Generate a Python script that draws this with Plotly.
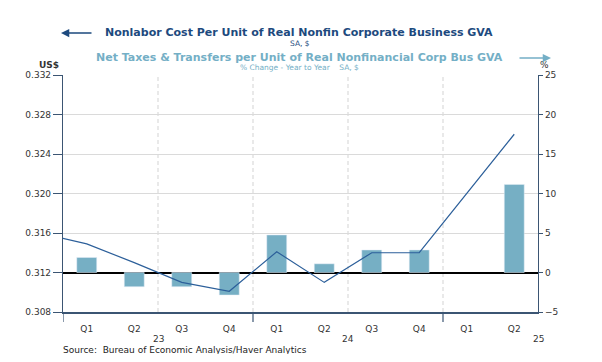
import plotly.graph_objects as go

# ---- data ----
quarters = ["2022Q4", "2023Q1", "2023Q2", "2023Q3", "2023Q4",
            "2024Q1", "2024Q2", "2024Q3", "2024Q4", "2025Q1", "2025Q2"]
nonlabor_cost = [0.3160, 0.3149, 0.3130, 0.3110, 0.3101,
                 0.3141, 0.3110, 0.3140, 0.3140, 0.3200, 0.3260]
net_taxes_pct = [None, 1.9, -1.8, -1.8, -2.85,
                 4.75, 1.1, 2.85, 2.85, None, 11.15]
years_shown = ["2023", "2024", "2025"]

# ---- derived positions (quarter index, 2023Q1 = 0) ----
def qidx(q):
    return (int(q[:4]) - 2023) * 4 + int(q[-1]) - 1

xpos = [qidx(q) for q in quarters]
shown = [(x, q) for x, q in zip(xpos, quarters) if x >= 0]
tickvals = [x for x, _ in shown]
ticktext = ["Q" + q[-1] for _, q in shown]
x_lo, x_hi = min(tickvals) - 0.5, max(tickvals) + 0.5

AX = "#3b5573"
NAVY = "#1d4a7e"
LIGHT = "#74afc6"
BAR = "#76afc4"
LINE = "#2c5f9a"
FONT = "DejaVu Sans"

# page body has an 8px margin; figure sized to fit the 602x362 window
OFF = 8
W, H = 602 - 2 * OFF, 362 - 2 * OFF
PW, PH, L, T = 475, 237, 63, 75   # plot area in window pixels

fig = go.Figure()
fig.add_trace(go.Bar(x=xpos, y=net_taxes_pct, marker_color=BAR, width=0.42,
                     yaxis="y", name="Net Taxes & Transfers"))
fig.add_trace(go.Scatter(x=xpos, y=nonlabor_cost, mode="lines",
                         line=dict(color=LINE, width=1.2), yaxis="y2",
                         name="Nonlabor Cost"))

shapes = []
for x in tickvals:
    if x % 2 == 1 and x + 0.5 < x_hi:
        shapes.append(dict(type="line", xref="x", yref="paper", x0=x + 0.5, x1=x + 0.5,
                           y0=0, y1=1, line=dict(color="#d3d3d3", width=1, dash="4px,3px"),
                           layer="below"))
for x, q in shown:
    if q.endswith("Q1"):
        shapes.append(dict(type="line", xref="x", yref="paper", x0=x - 0.5, x1=x - 0.5,
                           y0=0, y1=-10 / PH, line=dict(color=AX, width=1.2)))

def px(xp):
    return (xp - L) / PW
def py(yp):
    return (T + PH - yp) / PH

ann = []
for y in years_shown:
    first = qidx(y + "Q1")
    ann.append(dict(text=y[2:], x=first + 1.5, y=py(339), xref="x", yref="paper",
                    xanchor="center", yanchor="middle", showarrow=False,
                    font=dict(size=9, color="#333333", family=FONT)))

def txt(s, x, y, size, color, xanchor="center"):
    return dict(text=s, x=px(x), y=py(y), xref="paper", yref="paper", showarrow=False,
                xanchor=xanchor, yanchor="middle", font=dict(size=size, color=color, family=FONT))

ann += [
    txt("<b>Nonlabor Cost Per Unit of Real Nonfin Corporate Business GVA</b>", 299, 33, 11, NAVY),
    txt("SA, $", 300, 43.5, 7.5, NAVY),
    txt("<b>Net Taxes &amp; Transfers per Unit of Real Nonfinancial Corp Bus GVA</b>", 299, 57.5, 11, LIGHT),
    txt("% Change - Year to Year&nbsp;&nbsp;&nbsp;&nbsp;SA, $", 299.5, 68, 7.5, LIGHT),
    txt("<b>US$</b>", 49, 64.5, 9, "#333333"),
    txt("%", 544, 64.5, 9, "#333333"),
    txt("Source:&nbsp;&nbsp;Bureau of Economic Analysis/Haver Analytics", 61, 350, 9, "#222222", "left"),
    dict(text="", x=px(61), y=py(33), xref="paper", yref="paper", showarrow=True,
         ax=32, ay=0, arrowhead=2, arrowsize=1.1, arrowwidth=1.5, arrowcolor=NAVY),
    dict(text="", x=px(551), y=py(58), xref="paper", yref="paper", showarrow=True,
         ax=-33, ay=0, arrowhead=2, arrowsize=1.1, arrowwidth=1.5, arrowcolor=LIGHT),
]

fig.update_layout(
    width=W, height=H,
    margin=dict(l=L - OFF, r=W - (L - OFF) - PW, t=T - OFF, b=H - (T - OFF) - PH, pad=0),
    paper_bgcolor="white", plot_bgcolor="white",
    showlegend=False,
    font=dict(family=FONT, size=9, color="#333333"),
    xaxis=dict(range=[x_lo, x_hi], tickvals=tickvals, ticktext=ticktext,
               showgrid=False, zeroline=False, showline=True, linecolor=AX, linewidth=1.5,
               ticks="outside", ticklen=7, tickcolor="rgba(0,0,0,0)",
               tickfont=dict(size=9, color="#333333")),
    yaxis=dict(side="right", range=[-5, 25], dtick=5, showgrid=True, gridcolor="#dadada",
               gridwidth=1, zeroline=True, zerolinecolor="black", zerolinewidth=1.5,
               showline=True, linecolor=AX, linewidth=1.2, ticks="outside", ticklen=4,
               tickcolor=AX, tickfont=dict(size=9, color="#333333")),
    yaxis2=dict(side="left", overlaying="y", range=[0.308, 0.332], dtick=0.004,
                tickformat=".3f", showgrid=False, zeroline=False, showline=True,
                linecolor=AX, linewidth=1.2, ticks="outside", ticklen=9, tickcolor=AX,
                tickfont=dict(size=9, color="#333333")),
    shapes=shapes,
    annotations=ann,
)

fig.write_html("out.html")
